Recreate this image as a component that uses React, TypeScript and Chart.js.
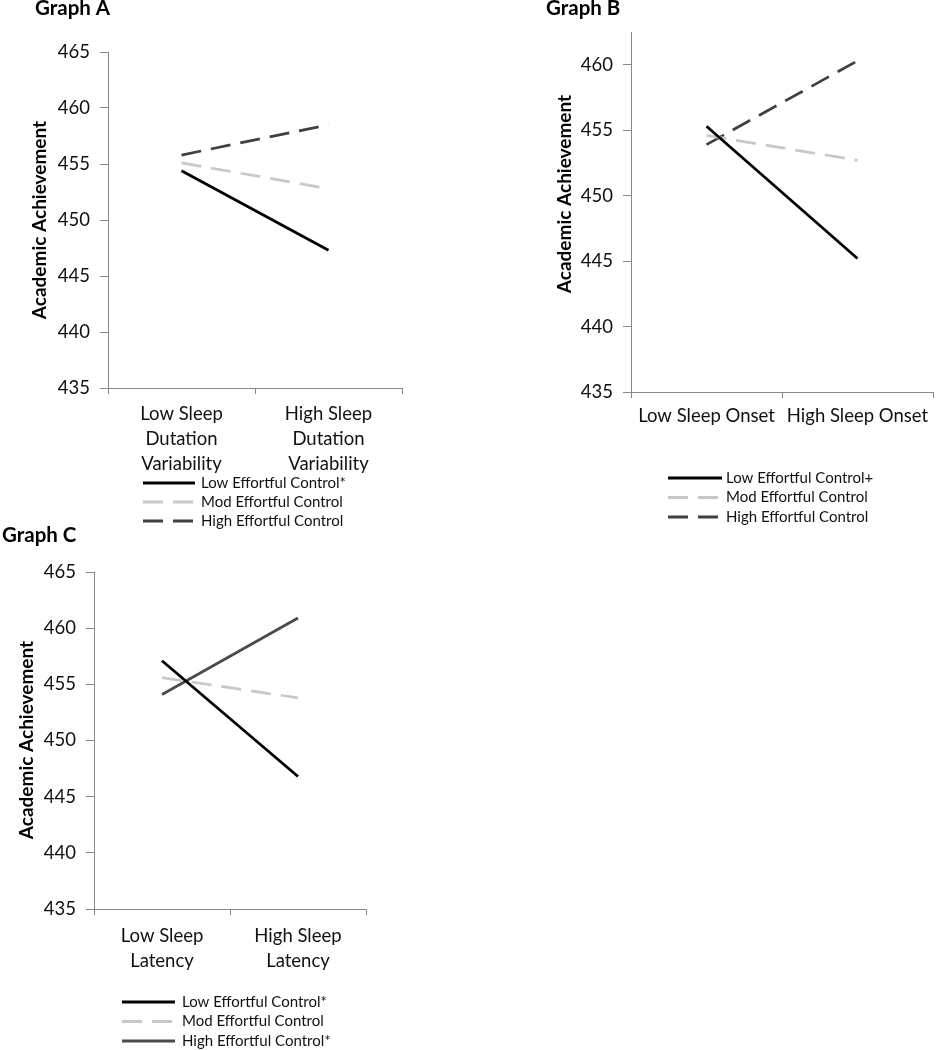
import React, { useEffect, useRef } from 'react';
import { Chart, registerables } from 'chart.js';
Chart.register(...registerables);

const FONT = 'Lato, "Open Sans", sans-serif';

// ---- Data ----
const catsA = [['Low Sleep', 'Dutation', 'Variability'], ['High Sleep', 'Dutation', 'Variability']];
const lowA = [454.4, 447.3];
const modA = [455.1, 452.8];
const highA = [455.8, 458.5];
const legendA = ['Low Effortful Control*', 'Mod Effortful Control', 'High Effortful Control'];
const yTicksA = [435, 440, 445, 450, 455, 460, 465];

const catsB = ['Low Sleep Onset', 'High Sleep Onset'];
const lowB = [455.3, 445.2];
const modB = [454.6, 452.7];
const highB = [453.9, 460.3];
const legendB = ['Low Effortful Control+', 'Mod Effortful Control', 'High Effortful Control'];
const yTicksB = [435, 440, 445, 450, 455, 460];

const catsC = [['Low Sleep', 'Latency'], ['High Sleep', 'Latency']];
const lowC = [457.1, 446.8];
const modC = [455.6, 453.8];
const highC = [454.1, 460.9];
const legendC = ['Low Effortful Control*', 'Mod Effortful Control', 'High Effortful Control*'];
const yTicksC = [435, 440, 445, 450, 455, 460, 465];

const yTitle = 'Academic Achievement';

const decorPlugin = {
  id: 'decor',
  afterDraw(chart: any, _a: any, o: any) {
    const ctx = chart.ctx;
    ctx.save();
    ctx.fillStyle = '#000';
    ctx.font = `bold 20.5px ${FONT}`;
    ctx.textAlign = 'left';
    ctx.textBaseline = 'alphabetic';
    ctx.fillText(o.title, o.titleX, o.titleY);

    ctx.save();
    ctx.translate(o.ytX, o.ytY);
    ctx.rotate(-Math.PI / 2);
    ctx.textAlign = 'center';
    ctx.textBaseline = 'middle';
    ctx.font = `bold 19px ${FONT}`;
    ctx.fillText(o.yTitle, 0, 0);
    ctx.restore();

    chart.data.datasets.forEach((ds: any, i: number) => {
      const y = o.legY + i * o.legDy;
      ctx.beginPath();
      ctx.setLineDash(ds.borderDash || []);
      ctx.strokeStyle = ds.borderColor;
      ctx.lineWidth = 3;
      ctx.moveTo(o.legX0, y);
      ctx.lineTo(o.legX1, y);
      ctx.stroke();
      ctx.setLineDash([]);
      ctx.fillStyle = '#111';
      ctx.font = `15px ${FONT}`;
      ctx.textAlign = 'left';
      ctx.textBaseline = 'middle';
      ctx.fillText(ds.label, o.legTX, y);
    });
    ctx.restore();
  },
};

const AXIS = '#868686';

function makeConfig(p: any) {
  const dash = [20, 10];
  return {
    type: 'line',
    data: {
      labels: p.cats,
      datasets: [
        { label: p.legend[0], data: p.low, borderColor: '#000000', borderWidth: 2.75, pointRadius: 0 },
        { label: p.legend[1], data: p.mod, borderColor: '#c8c8c8', borderWidth: 2.75, borderDash: dash, pointRadius: 0 },
        { label: p.legend[2], data: p.high, borderColor: p.highColor, borderWidth: 2.75, borderDash: p.highSolid ? [] : dash, pointRadius: 0 },
      ],
    },
    options: {
      animation: false,
      responsive: false,
      devicePixelRatio: 1,
      layout: { padding: { left: 0, top: p.top, right: p.right, bottom: p.bottom } },
      plugins: {
        legend: { display: false },
        tooltip: { enabled: false },
        decor: p.decor,
      },
      scales: {
        x: {
          type: 'category',
          offset: true,
          grid: { offset: true, drawOnChartArea: false, tickLength: 6, color: AXIS },
          border: { color: AXIS, width: 1 },
          ticks: { font: { family: FONT, size: 18.5, lineHeight: 1.35 }, color: '#111', padding: p.xPad, maxRotation: 0, autoSkip: false },
          afterFit: (s: any) => { s.height = 100; },
        },
        y: {
          min: 435,
          max: p.max,
          grid: { drawOnChartArea: false, tickLength: 8, color: AXIS },
          border: { color: AXIS, width: 1 },
          ticks: { font: { family: FONT, size: 18.5 }, color: '#111', padding: 10 },
          afterBuildTicks: (s: any) => { s.ticks = p.yTicks.map((v: number) => ({ value: v })); },
          afterFit: (s: any) => { s.width = p.yW; },
        },
      },
    },
    plugins: [decorPlugin],
  };
}

function Panel({ left, top, width, height, cfg }: any) {
  const ref = useRef<HTMLCanvasElement>(null);
  useEffect(() => {
    const chart = new Chart(ref.current as HTMLCanvasElement, makeConfig(cfg) as any);
    return () => chart.destroy();
  }, []);
  return (
    <canvas ref={ref} width={width} height={height}
      style={{ position: 'absolute', left, top, width, height }} />
  );
}

const cfgA = {
  cats: catsA, low: lowA, mod: modA, high: highA, legend: legendA, yTicks: yTicksA,
  highColor: '#404040', highSolid: false, max: 465,
  top: 52, right: 18, bottom: 42, yW: 108, xPad: 8,
  decor: { title: 'Graph A', titleX: 35, titleY: 15, yTitle, ytX: 40, ytY: 220, legX0: 143, legX1: 195, legTX: 201, legY: 483, legDy: 19 },
};
const cfgB = {
  cats: catsB, low: lowB, mod: modB, high: highB, legend: legendB, yTicks: yTicksB,
  highColor: '#404040', highSolid: false, max: 462.5,
  top: 32, right: 3, bottom: 38, yW: 101, xPad: 6,
  decor: { title: 'Graph B', titleX: 16, titleY: 15, yTitle, ytX: 35, ytY: 194, legX0: 138, legX1: 192, legTX: 196, legY: 478, legDy: 19.5 },
};
const cfgC = {
  cats: catsC, low: lowC, mod: modC, high: highC, legend: legendC, yTicks: yTicksC,
  highColor: '#4a4a4a', highSolid: true, max: 465,
  top: 52, right: 14, bottom: 41, yW: 94, xPad: 9,
  decor: { title: 'Graph C', titleX: 2, titleY: 22, yTitle, ytX: 27, ytY: 220, legX0: 122, legX1: 175, legTX: 182, legY: 482, legDy: 19.5 },
};

export default function App() {
  return (
    <div style={{ position: 'absolute', left: 0, top: 0, width: 936, height: 1050, background: '#fff' }}>
      <Panel left={0} top={0} width={420} height={530} cfg={cfgA} />
      <Panel left={530} top={0} width={406} height={530} cfg={cfgB} />
      <Panel left={0} top={520} width={380} height={530} cfg={cfgC} />
    </div>
  );
}
